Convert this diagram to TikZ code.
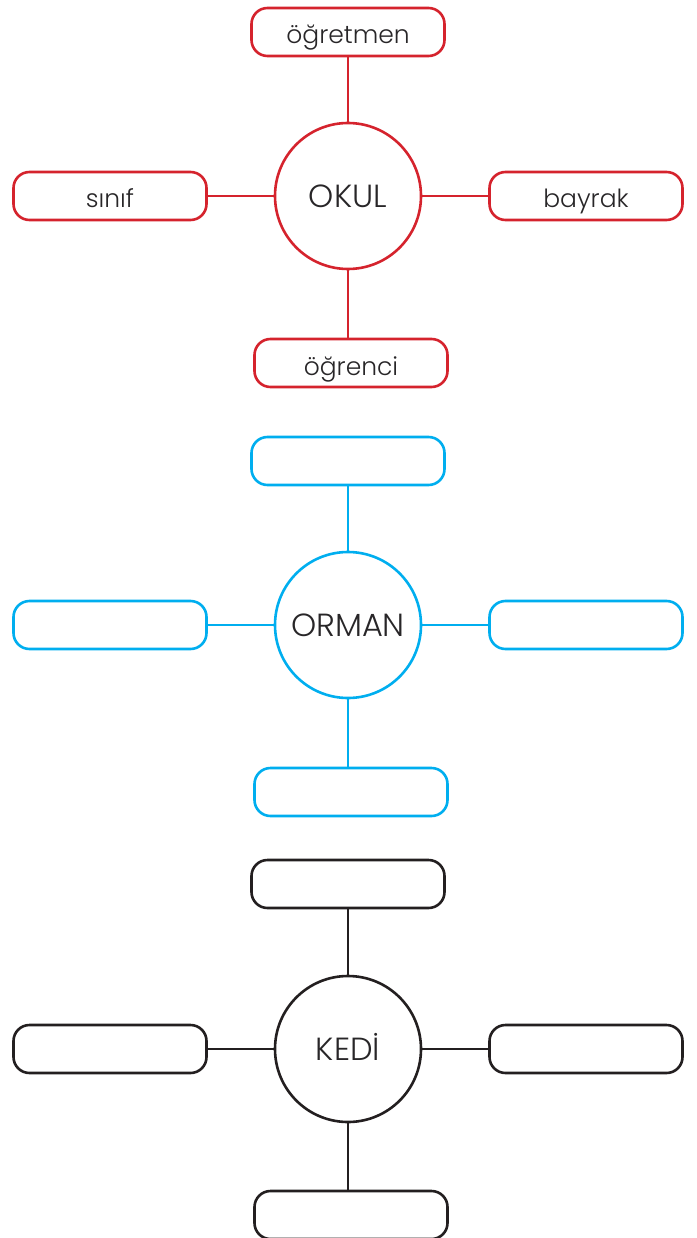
\documentclass[tikz,border=0pt]{standalone}
\usepackage{fontspec}
\setmainfont{Poppins Light}
\usetikzlibrary{positioning}
\definecolor{okulred}{RGB}{213,35,45}
\definecolor{ormanblue}{RGB}{0,174,239}
\definecolor{kedigray}{RGB}{35,31,32}
\definecolor{inkgray}{RGB}{40,38,40}
\begin{document}
\begin{tikzpicture}[x=1pt,y=-1pt,line width=2.6pt,
  wordbox/.style={draw,rectangle,rounded corners=16pt,minimum width=193pt,
    minimum height=48pt,inner sep=0pt,text=inkgray,text height=24pt,text depth=0pt,
    font=\fontsize{25}{28}\selectfont},
  hub/.style={draw,circle,minimum size=146pt,inner sep=0pt,text=inkgray,
    text height=23pt,text depth=0pt,font=\fontsize{32}{34}\selectfont}]
\useasboundingbox (0,0) rectangle (696,1238);
% OKUL
\begin{scope}[okulred]
\node[hub] (okul) at (348,196) {OKUL};
\node[wordbox] (okulN) at (348,32) {öğretmen};
\node[wordbox] (okulW) at (110,196) {sınıf};
\node[wordbox] (okulE) at (586,196) {bayrak};
\node[wordbox] (okulS) at (351,363) {öğrenci};
\draw (okul.north)--(okul.north|-okulN.south); \draw (okulW)--(okul);
\draw (okulE)--(okul); \draw (okul.south)--(okul.south|-okulS.north);
\end{scope}
% ORMAN
\begin{scope}[ormanblue]
\node[hub] (orman) at (348,625) {ORMAN};
\node[wordbox] (ormanN) at (348,461) {};
\node[wordbox] (ormanW) at (110,625) {};
\node[wordbox] (ormanE) at (586,625) {};
\node[wordbox] (ormanS) at (351,792) {};
\draw (orman.north)--(orman.north|-ormanN.south); \draw (ormanW)--(orman);
\draw (ormanE)--(orman); \draw (orman.south)--(orman.south|-ormanS.north);
\end{scope}
% KEDİ
\begin{scope}[kedigray]
\node[hub] (kedi) at (348,1049) {KEDİ};
\node[wordbox] (kediN) at (348,884) {};
\node[wordbox] (kediW) at (110,1049) {};
\node[wordbox] (kediE) at (586,1049) {};
\node[wordbox] (kediS) at (351,1215) {};
\draw (kedi.north)--(kedi.north|-kediN.south); \draw (kediW)--(kedi);
\draw (kediE)--(kedi); \draw (kedi.south)--(kedi.south|-kediS.north);
\end{scope}
\end{tikzpicture}
\end{document}
